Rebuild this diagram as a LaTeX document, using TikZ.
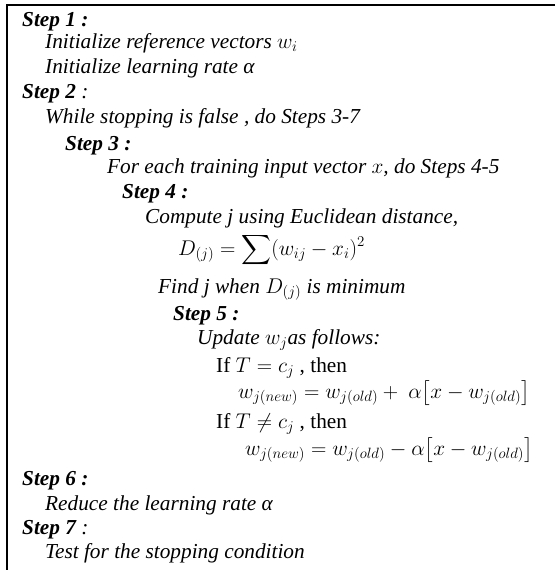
\RequirePackage{fix-cm}
\documentclass[tikz,border=0pt]{standalone}
\usepackage{amsmath}
\usepackage{fontspec}
\setmainfont{Liberation Serif}
\begin{document}
\begin{tikzpicture}[x=1pt,y=-1pt,
  line/.style={anchor=base west,inner sep=0pt,font=\fontsize{21.3}{25}\selectfont\itshape},
  head/.style={line,font=\fontsize{21.3}{25}\selectfont\bfseries\itshape},
  frame/.style={line width=1.6pt,black}]
\useasboundingbox (0,0) rectangle (555,570);
\draw[frame] (555,5) -- (7,5) -- (7,570);
\node[head] (s1) at (22,26) {Step 1 :};
\node[line] (a1) at (45,48) {Initialize reference vectors $w_i$};
\node[line] (a2) at (45,73) {Initialize learning rate α};
\node[head] (s2) at (22,98) {Step 2\textmd{ :}};
\node[line] (b1) at (45,123) {While stopping is false , do Steps 3-7};
\node[head] (s3) at (65,150) {Step 3 :};
\node[line] (c1) at (107,173) {For each training input vector $x$, do Steps 4-5};
\node[head] (s4) at (122,198) {Step 4 :};
\node[line] (d1) at (145,223) {Compute j using Euclidean distance,};
\node[line] (d2) at (178,255) {$\displaystyle D_{(j)} = \sum (w_{ij} - x_i)^2$};
\node[line] (d3) at (158,293) {Find j when $D_{(j)}$ is minimum};
\node[head] (s5) at (173,320) {Step 5 :};
\node[line] (e1) at (197,344) {Update $w_j$as follows:};
\node[line] (e2) at (216,372) {\upshape If $T = c_j$ , then};
\node[line] (e3) at (238,398) {$w_{j(new)} = w_{j(old)} +\ \alpha\bigl[x - w_{j(old)}\bigr]$};
\node[line] (e4) at (216,428) {\upshape If $T \neq c_j$ , then};
\node[line] (e5) at (245,455) {$w_{j(new)} = w_{j(old)} - \alpha\bigl[x - w_{j(old)}\bigr]$};
\node[head] (s6) at (22,485) {Step 6 :};
\node[line] (f1) at (45,510) {Reduce the learning rate α};
\node[head] (s7) at (22,534) {Step 7\textmd{ :}};
\node[line] (g1) at (45,558) {Test for the stopping condition};
\end{tikzpicture}
\end{document}
